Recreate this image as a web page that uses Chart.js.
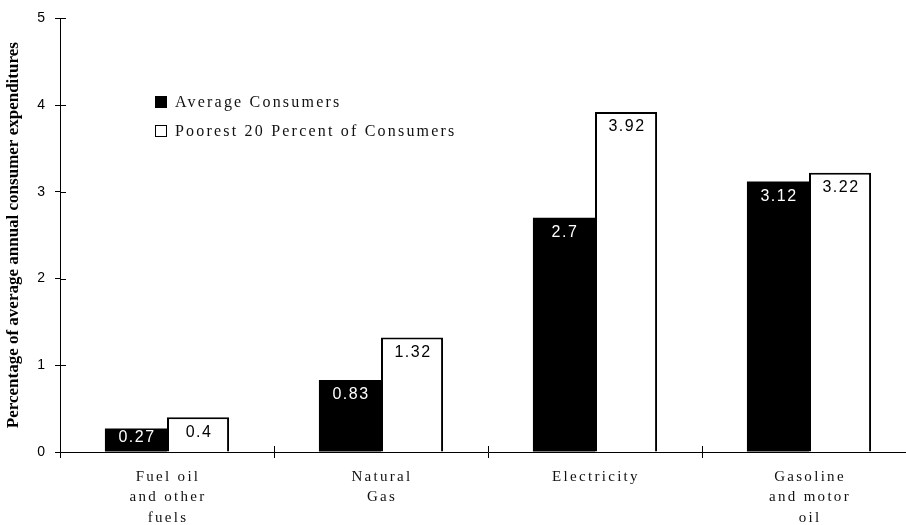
<!DOCTYPE html>
<html>
<head>
<meta charset="utf-8">
<script src="https://cdn.jsdelivr.net/npm/chart.js@4"></script>
<style>
  html, body { margin: 0; padding: 0; background: #fff; overflow: hidden; }
</style>
</head>
<body>
<canvas id="myChart" width="930" height="525"></canvas>
<script>
const categories = [["Fuel oil", "and other", "fuels"], ["Natural", "Gas"], ["Electricity"], ["Gasoline", "and motor", "oil"]];
const avgValues = [0.27, 0.83, 2.7, 3.12];
const poorValues = [0.4, 1.32, 3.92, 3.22];
const seriesNames = ["Average Consumers", "Poorest 20 Percent of Consumers"];
const yTicks = [0, 1, 2, 3, 4, 5];

// numbers printed near the top inside each bar
const valueLabels = {
  id: "valueLabels",
  afterDatasetsDraw(chart) {
    const ctx = chart.ctx;
    ctx.save();
    ctx.font = "16px 'Liberation Sans', Arial, sans-serif";
    ctx.letterSpacing = "1.5px";
    ctx.textAlign = "center";
    ctx.textBaseline = "middle";
    chart.data.datasets.forEach((ds, di) => {
      chart.getDatasetMeta(di).data.forEach((bar, i) => {
        const h = bar.base - bar.y;
        ctx.fillStyle = di === 0 ? "#fff" : "#000";
        ctx.fillText(String(ds.data[i]), bar.x + 1, bar.y + Math.min(15, h / 2 - 2));
      });
    });
    ctx.restore();
  }
};

// category names under the axis, spaced out like the original typesetting
const categoryLabels = {
  id: "categoryLabels",
  afterDraw(chart) {
    const ctx = chart.ctx;
    const x = chart.scales.x;
    ctx.save();
    ctx.font = "15px 'Liberation Serif', 'Times New Roman', serif";
    ctx.letterSpacing = "2.3px";
    ctx.fillStyle = "#111";
    ctx.textAlign = "center";
    ctx.textBaseline = "middle";
    categories.forEach((lines, i) => {
      const cx = x.getPixelForValue(i);
      lines.forEach((t, k) => ctx.fillText(t, cx + 1, x.top + 25 + k * 20.5));
    });
    ctx.restore();
  }
};

// tick marks that cross the axis lines
const innerTicks = {
  id: "innerTicks",
  afterDraw(chart) {
    const ctx = chart.ctx;
    const x = chart.scales.x, y = chart.scales.y;
    const area = chart.chartArea;
    ctx.save();
    ctx.strokeStyle = "#000";
    ctx.lineWidth = 1;
    ctx.beginPath();
    yTicks.forEach(v => {
      const py = Math.round(y.getPixelForValue(v)) + 0.5;
      ctx.moveTo(area.left, py);
      ctx.lineTo(area.left + 6, py);
    });
    for (let i = 0; i < categories.length - 1; i++) {
      const px = Math.round((x.getPixelForValue(i) + x.getPixelForValue(i + 1)) / 2) + 0.5;
      ctx.moveTo(px, area.bottom - 6);
      ctx.lineTo(px, area.bottom);
    }
    ctx.stroke();
    ctx.restore();
  }
};

// legend box floating inside the plot
const floatLegend = {
  id: "floatLegend",
  afterDraw(chart) {
    const ctx = chart.ctx;
    ctx.save();
    ctx.font = "16px 'Liberation Serif', 'Times New Roman', serif";
    ctx.letterSpacing = "2.2px";
    ctx.textBaseline = "alphabetic";
    chart.data.datasets.forEach((ds, di) => {
      const base = 107 + di * 29;
      ctx.fillStyle = ds.backgroundColor;
      ctx.fillRect(155.5, base - 10.5, 11, 11);
      ctx.strokeStyle = "#000";
      ctx.lineWidth = 1;
      ctx.strokeRect(155.5, base - 10.5, 11, 11);
      ctx.fillStyle = "#111";
      ctx.fillText(ds.label, 175, base);
    });
    ctx.restore();
  }
};

new Chart("myChart", {
  type: "bar",
  data: {
    labels: categories,
    datasets: [{
      label: seriesNames[0],
      data: avgValues,
      backgroundColor: "#000",
      borderWidth: 0
    }, {
      label: seriesNames[1],
      data: poorValues,
      backgroundColor: "#fff",
      borderColor: "#000",
      borderWidth: 2,
      borderSkipped: "bottom"
    }]
  },
  options: {
    responsive: false,
    animation: false,
    events: [],
    categoryPercentage: 0.58,
    barPercentage: 1.0,
    layout: { padding: { top: 17, right: 14, left: 0, bottom: 0 } },
    scales: {
      x: {
        grid: { display: true, drawOnChartArea: false, offset: true, tickLength: 6, color: "#000" },
        border: { display: true, color: "#000", width: 1 },
        ticks: { display: false },
        afterFit(scale) { scale.height = 73; }
      },
      y: {
        min: 0,
        max: 5,
        afterBuildTicks(scale) { scale.ticks = yTicks.map(v => ({ value: v })); },
        grid: { display: true, drawOnChartArea: false, tickLength: 5, color: "#000" },
        border: { display: true, color: "#000", width: 1 },
        ticks: {
          color: "#000",
          padding: 10,
          font: { family: "'Liberation Sans', Arial, sans-serif", size: 14 }
        },
        title: {
          display: true,
          text: "Percentage of average annual consumer expenditures",
          color: "#000",
          padding: { top: 3, bottom: 0 },
          font: { family: "'Liberation Serif', 'Times New Roman', serif", size: 17, weight: "bold" }
        },
        afterFit(scale) { scale.width = 60; }
      }
    },
    plugins: {
      legend: { display: false },
      tooltip: { enabled: false },
      title: { display: false }
    }
  },
  plugins: [valueLabels, categoryLabels, innerTicks, floatLegend]
});
</script>
</body>
</html>
